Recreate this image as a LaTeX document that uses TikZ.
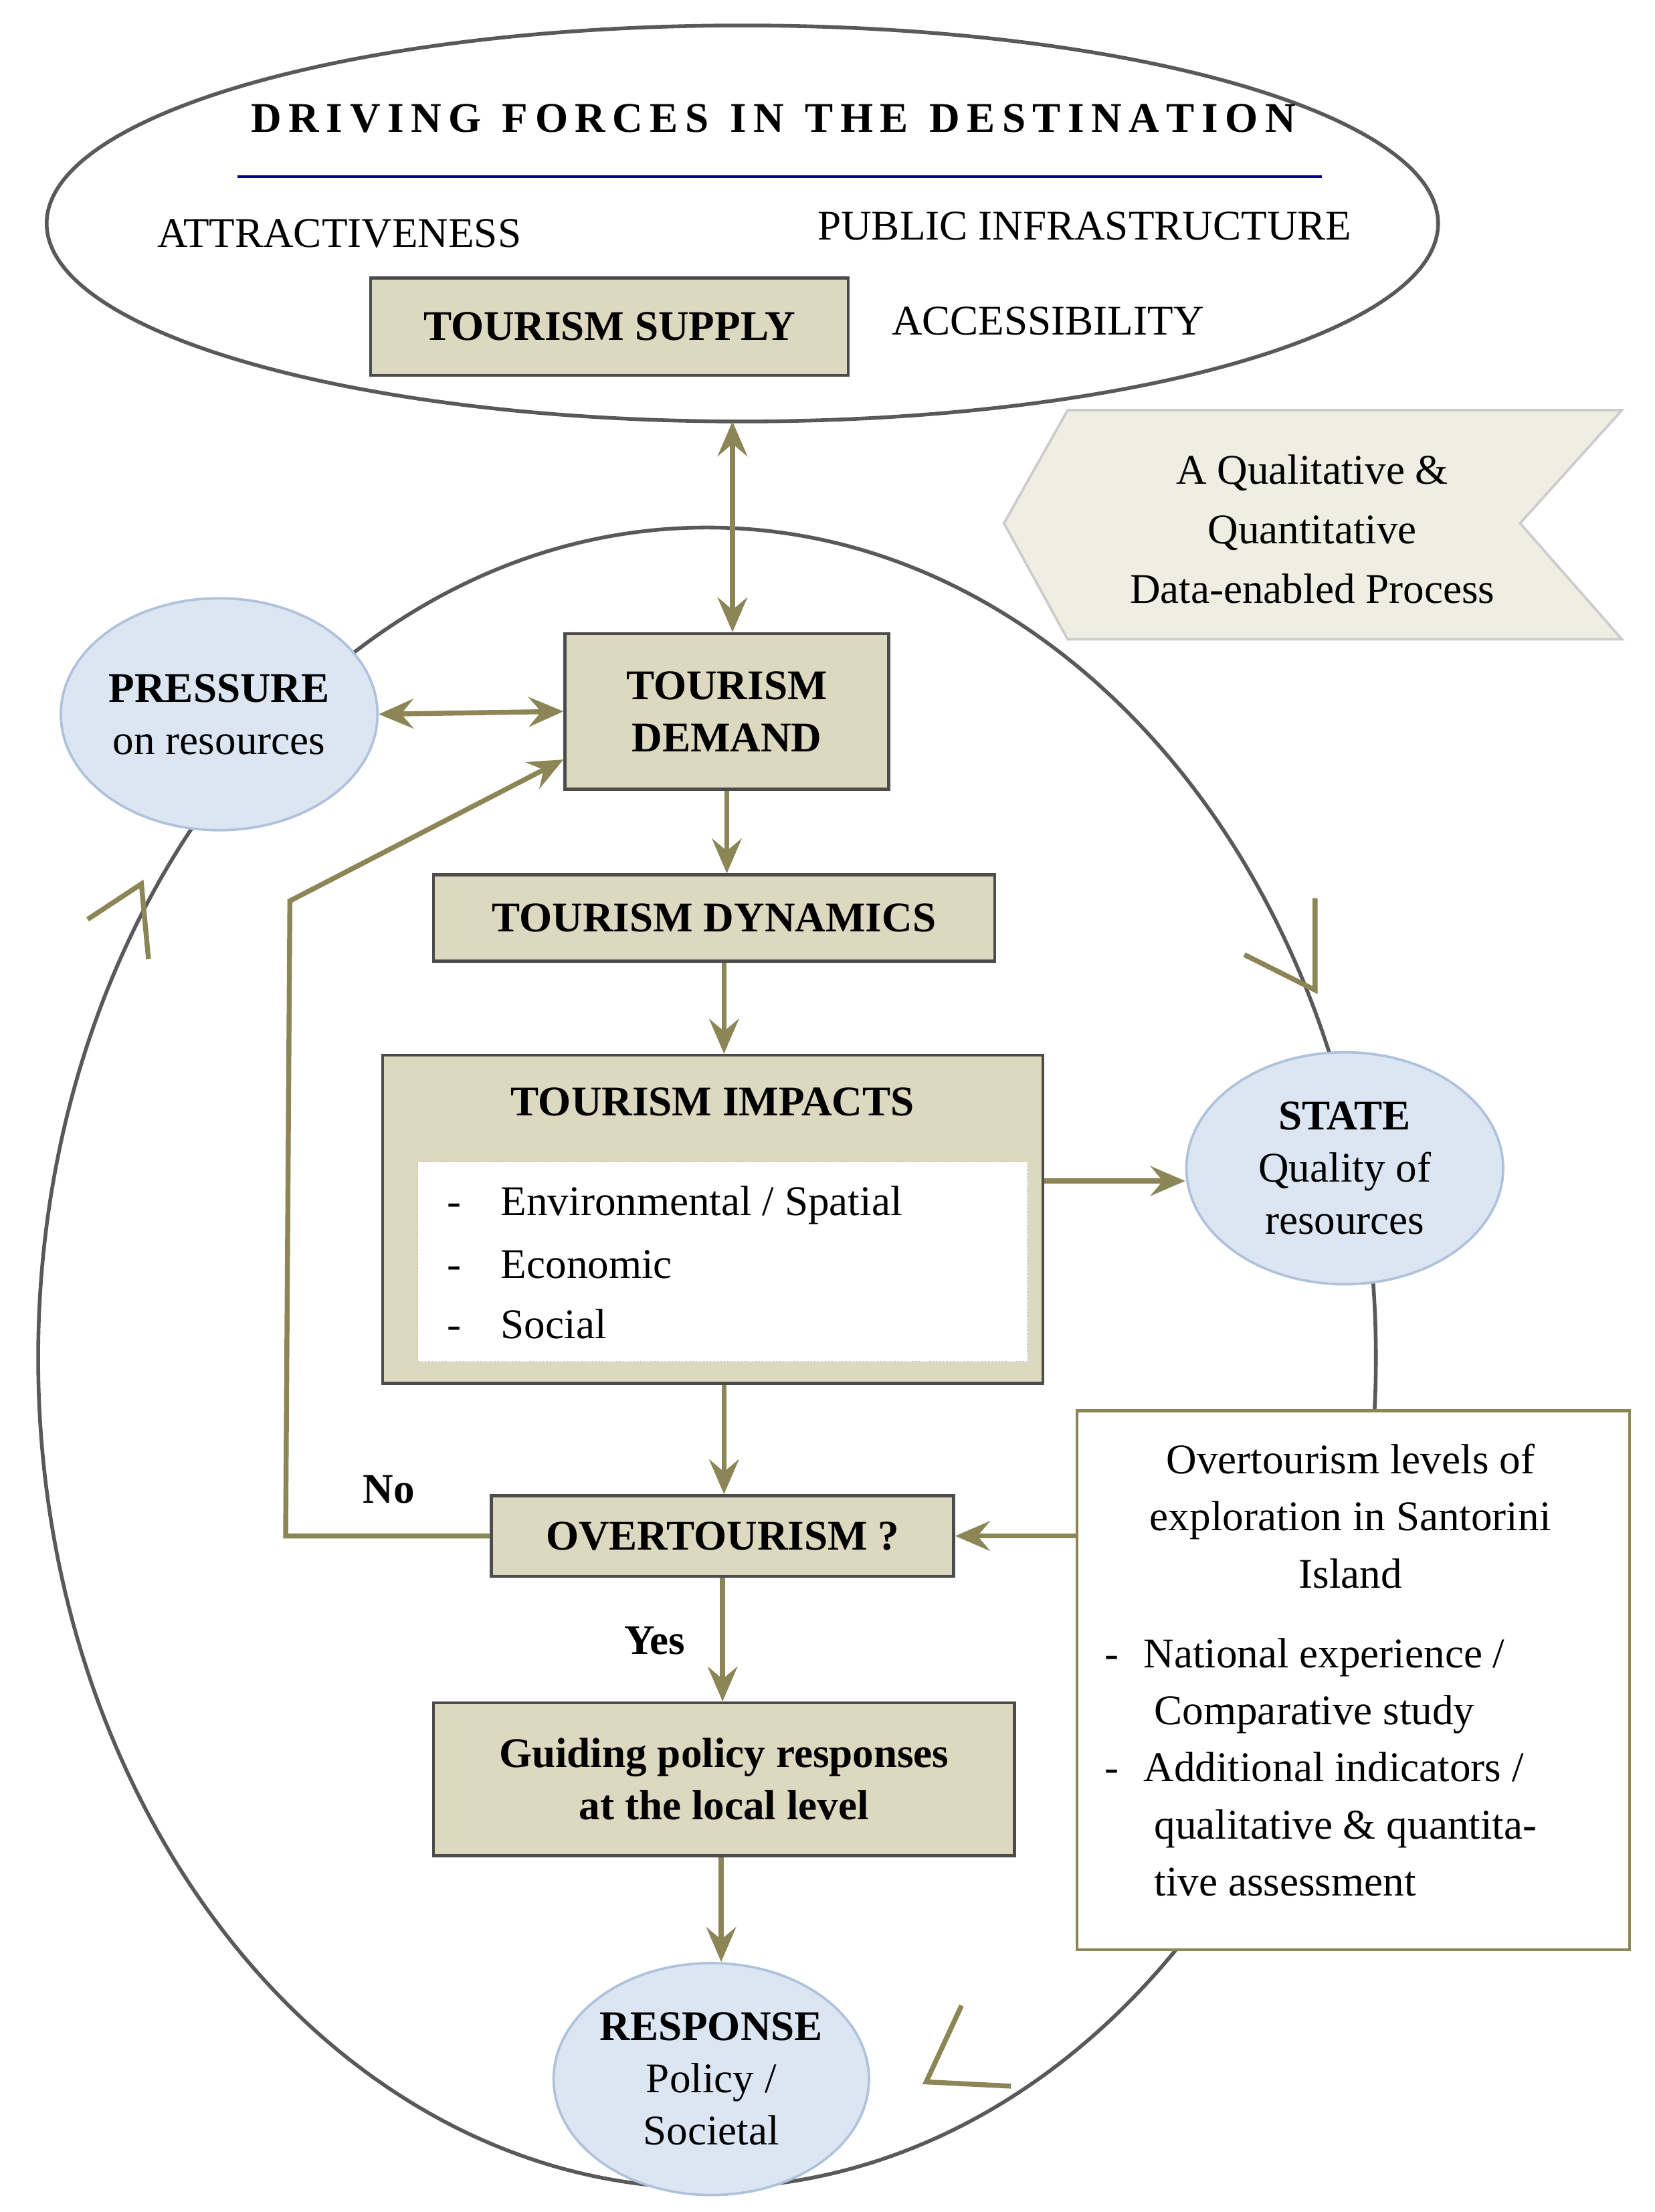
\documentclass[tikz,border=0pt]{standalone}
\usepackage{fontspec}
\setmainfont{Liberation Serif}
\usetikzlibrary{arrows.meta,shapes.geometric}
\definecolor{tan}{HTML}{DDD8C0}
\definecolor{olive}{HTML}{8C8556}
\definecolor{lblue}{HTML}{DCE6F2}
\definecolor{bblue}{HTML}{AFC2DC}
\definecolor{chev}{HTML}{EEEEE2}
\begin{document}
\begin{tikzpicture}[x=0.02cm,y=-0.02cm,
 box/.style={draw=black!70,fill=tan,line width=1.2pt,align=center,font=\fontsize{17}{21}\selectfont\bfseries,inner sep=0},
 circ/.style={ellipse,draw=bblue,fill=lblue,line width=1pt,align=center,font=\fontsize{17}{21}\selectfont,inner sep=0},
 arr/.style={olive,line width=2pt,-{Stealth[length=14pt,width=12pt,inset=5pt]}},
 darr/.style={arr,{Stealth[length=14pt,width=12pt,inset=5pt]}-{Stealth[length=14pt,width=12pt,inset=5pt]}},
 vee/.style={olive,line width=2pt},
 txt/.style={font=\fontsize{17}{21}\selectfont,align=center}]
\useasboundingbox (0,0) rectangle (1170,1564);
% loop
\draw[black!65,line width=1.5pt] (500,960) ellipse [x radius=473,y radius=587];
\draw[vee] (62,650) -- (100,625) -- (105,678);
\draw[vee] (880,675) -- (930,700) -- (930,635);
\draw[vee] (680,1418) -- (655,1472) -- (715,1475);
% top ellipse
\draw[black!65,line width=1.5pt,fill=white] (525,158) ellipse [x radius=492,y radius=140];
\node[txt,font=\fontsize{17}{21}\selectfont\bfseries] (title) at (547,84) {D\,R\,I\,V\,I\,N\,G\ \ F\,O\,R\,C\,E\,S\ \ I\,N\ \ T\,H\,E\ \ D\,E\,S\,T\,I\,N\,A\,T\,I\,O\,N};
\draw[blue!60!black,line width=1pt] (168,125) -- (935,125);
\node[txt] (attr) at (240,165) {ATTRACTIVENESS};
\node[txt] (pub) at (767,160) {PUBLIC INFRASTRUCTURE};
\node[txt] (acc) at (741,227) {ACCESSIBILITY};
\node[box,minimum width=6.76cm,minimum height=1.38cm] (supply) at (431,231) {TOURISM SUPPLY};
\coordinate (etop) at (518,298);
% chevron
\draw[fill=chev,draw=black!20,line width=1pt] (710,370) -- (755,290) -- (1147,290) -- (1075,370) -- (1147,452) -- (755,452) -- cycle;
\node[txt] (chevt) at (928,374) {A Qualitative \&\\[3pt] Quantitative\\[3pt] Data-enabled Process};
% nodes
\node[circ,minimum width=4.48cm,minimum height=3.28cm] (press) at (155,505) {\textbf{PRESSURE}\\ on resources};
\node[box,minimum width=4.58cm,minimum height=2.2cm] (demand) at (514,503) {TOURISM\\ DEMAND};
\node[box,minimum width=7.94cm,minimum height=1.22cm] (dyn) at (505,649) {TOURISM DYNAMICS};
\node[box,minimum width=9.34cm,minimum height=4.64cm] (imp) at (504,862) {};
\node[txt,font=\fontsize{17}{21}\selectfont\bfseries] (impt) at (504,779) {TOURISM IMPACTS};
\node[draw=black!30,densely dotted,fill=white,minimum width=8.62cm,minimum height=2.82cm,inner sep=0] (inner) at (511,892) {};
\node[txt,anchor=west] (i1) at (310,852) {-\hspace{16pt}Environmental / Spatial};
\node[txt,anchor=west] (i2) at (310,894) {-\hspace{16pt}Economic};
\node[txt,anchor=west] (i3) at (310,936) {-\hspace{16pt}Social};
\node[circ,minimum width=4.48cm,minimum height=3.28cm] (state) at (951,826) {\textbf{STATE}\\ Quality of\\ resources};
\node[box,minimum width=6.54cm,minimum height=1.14cm] (over) at (511,1086) {OVERTOURISM ?};
\node[box,minimum width=8.22cm,minimum height=2.16cm] (guide) at (512,1258) {Guiding policy responses\\ at the local level};
\node[circ,minimum width=4.32cm,minimum height=3.28cm] (resp) at (503,1470) {\textbf{RESPONSE}\\ Policy /\\ Societal};
\node[draw=olive,fill=white,line width=1.2pt,minimum width=7.82cm,minimum height=7.62cm,inner sep=0] (rbox) at (957,1188) {};
\node[txt] (r1) at (955,1072) {Overtourism levels of\\[2pt] exploration in Santorini\\[2pt] Island};
\node[txt,anchor=north west,align=left] (r2) at (775,1152) {-\hspace{10pt}National experience /\\[2pt] \hspace{20pt}Comparative study\\[2pt] -\hspace{10pt}Additional indicators /\\[2pt] \hspace{20pt}qualitative \& quantita-\\[2pt] \hspace{20pt}tive assessment};
% arrows
\draw[darr] (etop) -- (demand.north -| etop);
\draw[darr] (press.east) -- (demand.west);
\draw[arr] (demand.south) -- (dyn.north -| demand.south);
\draw[arr] (dyn.south -| 512,0) -- (imp.north -| 512,0);
\draw[arr] (imp.east |- 0,835) -- (state.west |- 0,835);
\draw[arr] (imp.south -| 512,0) -- (over.north -| 512,0);
\draw[arr] (over.south -| 511,0) -- (guide.north -| 511,0);
\draw[arr] (guide.south -| 510,0) -- (resp.north -| 510,0);
\draw[arr] (rbox.west |- over) -- (over.east);
\draw[arr] (over.west) -- (202,1086) -- (205,637) -- (demand.south west |- 0,537);
\node[txt,font=\fontsize{17}{21}\selectfont\bfseries] (no) at (275,1053) {No};
\node[txt,font=\fontsize{17}{21}\selectfont\bfseries] (yes) at (463,1160) {Yes};
\end{tikzpicture}
\end{document}
